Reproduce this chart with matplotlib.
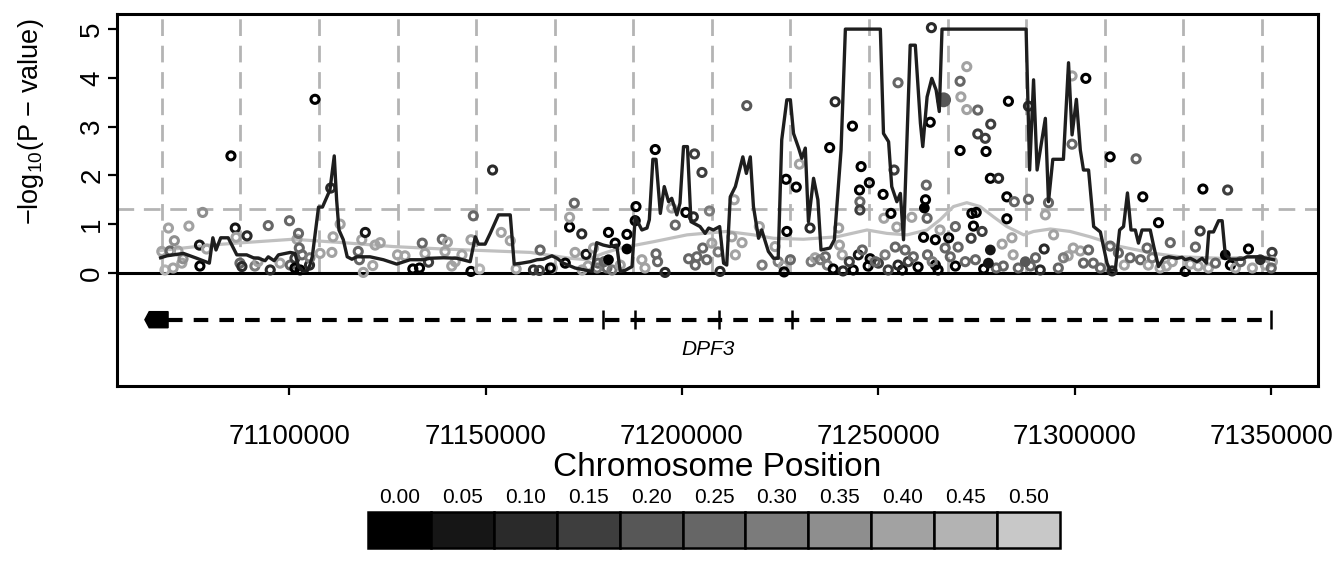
import matplotlib
matplotlib.use('Agg')
import matplotlib.pyplot as plt
from matplotlib.patches import Polygon
import numpy as np

plt.rcParams['font.family'] = ['Liberation Sans', 'DejaVu Sans']
plt.rcParams['mathtext.default'] = 'regular'
plt.rcParams['lines.scale_dashes'] = False

# SNPs: position (kb), -log10(p), LD bin (0 -> 0.00 ... 10 -> 0.50)
snp_kb = [71067.6, 71068.4, 71069.3, 71070.5, 71070.8, 71069.7, 71071.7, 71072.7, 71073.0, 71074.5,
          71077.2, 71077.3, 71078.0, 71079.0, 71085.2, 71086.3, 71086.5, 71087.5, 71088.0, 71089.3,
          71091.3, 71092.1, 71094.7, 71095.2, 71097.7, 71100.1, 71100.3, 71101.5, 71101.5, 71102.0,
          71102.4, 71102.6, 71102.8, 71103.3, 71105.2, 71105.3, 71106.6, 71107.9, 71110.6, 71110.9,
          71111.2, 71113.0, 71117.6, 71117.9, 71118.5, 71118.9, 71119.4, 71121.3, 71121.9, 71123.2,
          71127.6, 71129.5, 71131.5, 71133.2, 71133.9, 71134.6, 71135.5, 71139.0, 71140.3, 71139.7,
          71141.4, 71142.3, 71144.0, 71146.3, 71146.3, 71146.9, 71148.5, 71151.8, 71154.0, 71156.3,
          71157.8, 71162.2, 71163.7, 71163.9, 71167.0, 71166.5, 71170.3, 71171.4, 71171.4, 71172.6,
          71172.8, 71174.5, 71175.6, 71176.1, 71177.5, 71178.7, 71180.9, 71181.3, 71183.0, 71186.0,
          71188.1, 71188.3, 71189.8, 71190.6, 71193.2, 71193.4, 71193.8, 71195.7, 71197.4, 71198.3,
          71201.0, 71201.7, 71202.9, 71203.2, 71203.4, 71203.8, 71205.1, 71205.3, 71206.3, 71207.0,
          71207.6, 71209.2, 71209.7, 71212.7, 71213.3, 71213.6, 71215.3, 71216.5, 71219.7, 71220.4,
          71223.7, 71224.5, 71226.5, 71226.7, 71225.8, 71226.0, 71229.1, 71229.9, 71232.6, 71232.9,
          71233.9, 71236.5, 71237.0, 71237.6, 71238.5, 71239.0, 71239.9, 71240.1, 71241.0, 71243.4,
          71243.6, 71244.9, 71245.2, 71245.3, 71245.3, 71245.6, 71245.9, 71247.4, 71247.7, 71247.9,
          71250.0, 71251.2, 71251.4, 71251.7, 71252.5, 71253.2, 71254.0, 71254.3, 71254.7, 71255.0,
          71256.1, 71256.8, 71257.6, 71258.5, 71258.9, 71260.1, 71261.5, 71262.0, 71262.2, 71262.4,
          71262.5, 71263.2, 71263.5, 71264.5, 71264.5, 71265.7, 71267.0, 71267.9, 71269.6, 71269.6,
          71270.8, 71270.8, 71271.0, 71272.5, 71272.5, 71273.6, 71273.8, 71274.2, 71274.9, 71274.7,
          71275.3, 71275.3, 71276.4, 71276.8, 71277.2, 71277.4, 71278.5, 71278.6, 71280.6, 71281.5,
          71281.8, 71282.7, 71282.7, 71283.1, 71284.0, 71284.6, 71284.3, 71288.2, 71288.2, 71288.7,
          71291.2, 71292.2, 71292.5, 71293.3, 71294.6, 71298.3, 71299.3, 71299.3, 71299.6, 71301.4,
          71302.8, 71303.5, 71304.7, 71306.5, 71309.0, 71309.0, 71309.5, 71311.1, 71312.6, 71314.1,
          71315.6, 71317.3, 71318.4, 71316.7, 71318.7, 71319.7, 71321.3, 71321.7, 71323.3, 71324.3,
          71324.8, 71328.1, 71329.4, 71330.7, 71331.4, 71331.9, 71332.6, 71334.0, 71335.8, 71338.9,
          71339.6, 71340.9, 71342.2, 71344.2, 71345.2, 71348.5, 71350.2, 71350.3, 71350.0, 71227.6,
          71235.2, 71240.8, 71242.6, 71249.2, 71255.0, 71263.7, 71265.2, 71268.3, 71270.3, 71272.1,
          71280.0, 71285.6, 71290.0, 71295.8, 71297.1, 71302.2, 71178.4, 71180.2, 71182.2, 71184.3,
          71174.6]
snp_logp = [0.44, 0.06, 0.92, 0.10, 0.66, 0.45, 0.45, 0.20, 0.29, 0.96,
            0.57, 0.14, 1.24, 0.49, 2.40, 0.92, 0.73, 0.20, 0.13, 0.76,
            0.14, 0.23, 0.97, 0.06, 0.20, 1.07, 0.16, 0.30, 0.10, 0.69,
            0.81, 0.51, 0.06, 0.37, 0.16, 0.31, 3.56, 0.40, 1.74, 0.42,
            0.74, 1.00, 0.44, 0.27, 0.68, 0.01, 0.83, 0.15, 0.57, 0.62,
            0.37, 0.35, 0.08, 0.10, 0.61, 0.40, 0.22, 0.69, 0.63, 0.44,
            0.14, 0.23, 0.37, 0.68, 0.03, 1.17, 0.08, 2.11, 0.83, 0.66,
            0.08, 0.06, 0.05, 0.47, 0.10, 0.10, 0.20, 0.94, 1.14, 1.43,
            0.42, 0.80, 0.38, 0.14, 0.51, 0.20, 0.10, 0.83, 0.61, 0.79,
            1.07, 1.36, 0.27, 0.10, 2.53, 0.39, 0.23, 0.01, 1.33, 0.98,
            1.24, 0.29, 1.15, 2.44, 0.16, 0.33, 2.06, 0.51, 0.27, 1.27,
            0.61, 0.43, 0.03, 0.74, 1.50, 0.37, 0.62, 3.43, 0.95, 0.16,
            0.54, 0.23, 1.92, 0.85, 0.14, 0.02, 1.76, 2.23, 0.92, 0.23,
            0.31, 0.33, 0.16, 2.57, 0.08, 3.51, 0.92, 0.57, 0.04, 3.01,
            0.06, 0.37, 1.70, 1.46, 1.29, 2.18, 0.47, 0.14, 1.85, 0.29,
            0.20, 1.61, 1.12, 0.37, 0.06, 1.22, 2.11, 0.53, 0.94, 3.90,
            0.06, 0.47, 0.23, 1.14, 0.33, 0.12, 0.73, 1.50, 1.80, 1.12,
            0.37, 3.09, 5.03, 0.68, 0.16, 0.88, 0.51, 0.72, 0.95, 0.14,
            2.51, 3.93, 3.61, 4.23, 3.35, 0.71, 1.22, 0.96, 1.24, 0.27,
            3.34, 2.85, 0.85, 0.08, 2.76, 2.49, 1.94, 3.05, 1.94, 0.59,
            0.14, 1.56, 1.11, 3.52, 0.72, 1.46, 0.37, 3.42, 1.51, 0.14,
            0.06, 0.49, 1.19, 1.44, 0.78, 0.35, 4.04, 2.64, 0.51, 0.45,
            3.99, 0.47, 0.20, 0.10, 2.38, 0.55, 0.04, 0.41, 0.16, 0.31,
            2.34, 1.56, 0.51, 0.27, 0.16, 0.31, 1.03, 0.10, 0.14, 0.62,
            0.23, 0.03, 0.18, 0.53, 0.14, 0.86, 1.72, 0.10, 0.20, 1.70,
            0.16, 0.10, 0.23, 0.49, 0.10, 0.16, 0.42, 0.23, 0.10, 0.27,
            0.27, 0.37, 0.23, 0.23, 0.16, 0.23, 0.06, 0.33, 0.53, 0.23,
            0.10, 0.10, 0.31, 0.10, 0.31, 0.20, 0.10, 0.23, 0.06, 0.16,
            0.06]
snp_ld = [8, 9, 8, 8, 7, 5, 8, 8, 7, 8,
          1, 0, 7, 8, 0, 1, 8, 5, 2, 2,
          6, 8, 5, 2, 8, 5, 5, 3, 0, 8,
          5, 5, 0, 5, 2, 6, 0, 8, 2, 8,
          8, 8, 5, 5, 8, 8, 1, 8, 8, 8,
          8, 8, 0, 0, 5, 8, 3, 5, 8, 8,
          8, 8, 8, 8, 0, 5, 9, 2, 8, 8,
          8, 2, 3, 5, 8, 0, 0, 0, 8, 5,
          8, 2, 1, 8, 8, 5, 5, 0, 0, 0,
          0, 0, 8, 8, 0, 5, 5, 2, 8, 5,
          0, 5, 2, 3, 5, 5, 3, 5, 5, 6,
          8, 6, 2, 8, 8, 8, 8, 4, 8, 6,
          8, 6, 0, 0, 8, 0, 0, 8, 2, 6,
          8, 5, 6, 0, 0, 2, 8, 8, 2, 0,
          0, 1, 0, 5, 3, 0, 5, 0, 0, 0,
          3, 0, 8, 6, 3, 0, 3, 5, 8, 5,
          0, 5, 3, 8, 5, 0, 0, 0, 5, 5,
          5, 0, 2, 0, 0, 8, 5, 0, 5, 0,
          0, 5, 8, 8, 8, 3, 0, 0, 0, 5,
          5, 3, 3, 0, 3, 0, 0, 3, 2, 8,
          5, 0, 0, 0, 8, 5, 8, 2, 5, 5,
          2, 2, 8, 5, 8, 8, 8, 5, 8, 8,
          0, 5, 5, 5, 0, 5, 2, 5, 8, 5,
          5, 0, 5, 5, 8, 6, 0, 8, 8, 5,
          8, 0, 8, 5, 8, 3, 0, 8, 5, 3,
          0, 8, 5, 0, 8, 8, 3, 8, 5, 5,
          6, 8, 3, 5, 2, 6, 0, 5, 5, 5,
          5, 5, 5, 5, 6, 5, 6, 5, 6, 8,
          8]

# SNPs drawn as filled dots
filled_kb = [71181.3, 71186.0, 71261.7, 71278.0, 71278.5, 71287.4, 71338.3, 71347.2]
filled_logp = [0.27, 0.49, 1.33, 0.20, 0.47, 0.23, 0.37, 0.27]
filled_ld = [0, 0, 0, 1, 1, 4, 0, 2]

# lead SNP
lead_kb = 71266.6
lead_logp = 3.55
lead_ld = 4

# sliding-window statistic (black line, capped at 5)
win_kb = [71067.3, 71068.9, 71073.1, 71076.5, 71079.7, 71080.6, 71081.4, 71082.6, 71084.5, 71086.7,
          71089.2, 71090.9, 71092.2, 71093.9, 71094.7, 71096.2, 71097.3, 71100.3, 71101.5, 71102.4,
          71103.5, 71104.7, 71105.3, 71105.9, 71107.5, 71108.5, 71110.4, 71111.5, 71112.1, 71112.7,
          71113.8, 71114.8, 71116.0, 71117.2, 71120.6, 71124.0, 71127.4, 71130.8, 71134.2, 71135.9,
          71139.3, 71142.7, 71146.1, 71147.4, 71148.2, 71149.9, 71151.2, 71153.3, 71156.3, 71157.3,
          71159.2, 71161.4, 71163.1, 71164.7, 71166.9, 71168.2, 71169.8, 71172.8, 71177.1, 71178.3,
          71180.0, 71181.7, 71183.4, 71184.3, 71185.5, 71187.3, 71188.1, 71189.8, 71191.1, 71191.7,
          71192.6, 71193.4, 71194.5, 71195.5, 71196.6, 71197.4, 71198.7, 71199.5, 71200.4, 71201.4,
          71202.3, 71204.6, 71205.9, 71206.8, 71208.0, 71209.6, 71210.6, 71211.4, 71212.3, 71213.6,
          71215.5, 71216.4, 71217.4, 71218.2, 71219.5, 71220.3, 71222.0, 71223.3, 71224.5, 71225.4,
          71226.7, 71227.6, 71228.4, 71229.7, 71230.5, 71231.4, 71232.2, 71233.5, 71234.6, 71235.4,
          71237.7, 71238.8, 71240.5, 71241.6, 71250.5, 71251.3, 71252.6, 71253.4, 71254.7, 71255.6,
          71256.4, 71258.1, 71259.4, 71260.7, 71261.3, 71262.4, 71263.6, 71264.7, 71265.5, 71266.2,
          71287.6, 71288.5, 71289.5, 71290.4, 71292.5, 71293.3, 71294.4, 71297.1, 71298.4, 71299.3,
          71300.4, 71301.4, 71302.2, 71303.5, 71304.8, 71306.5, 71308.2, 71309.0, 71310.3, 71311.4,
          71312.4, 71313.4, 71314.3, 71315.4, 71316.2, 71317.1, 71319.2, 71320.1, 71321.3, 71322.6,
          71323.9, 71326.0, 71327.3, 71328.1, 71329.4, 71331.1, 71332.4, 71333.5, 71334.1, 71335.3,
          71336.6, 71337.5, 71338.3, 71339.6, 71342.6, 71343.8, 71346.4, 71348.9, 71350.6]
win_logp = [0.31, 0.35, 0.40, 0.30, 0.20, 0.72, 0.47, 0.72, 0.72, 0.37,
            0.37, 0.31, 0.30, 0.25, 0.33, 0.25, 0.37, 0.42, 0.40, 0.13,
            0.03, 0.05, 0.16, 0.33, 1.35, 1.35, 1.70, 2.40, 1.50, 0.88,
            0.68, 0.33, 0.28, 0.33, 0.33, 0.27, 0.18, 0.27, 0.27, 0.30,
            0.31, 0.30, 0.23, 0.74, 0.59, 0.59, 0.81, 1.19, 1.19, 0.18,
            0.20, 0.23, 0.27, 0.28, 0.35, 0.30, 0.20, 0.10, 0.03, 0.62,
            0.57, 0.54, 0.57, 0.03, 0.05, 0.13, 1.15, 0.88, 0.92, 1.09,
            2.33, 2.33, 1.22, 1.77, 1.46, 1.53, 1.19, 1.43, 2.59, 2.59,
            1.05, 0.95, 0.81, 0.92, 0.88, 0.95, 0.20, 0.16, 1.56, 1.77,
            2.38, 2.04, 2.38, 1.36, 0.71, 0.88, 0.44, 0.30, 0.30, 2.73,
            3.55, 3.55, 2.86, 2.56, 2.35, 2.56, 1.05, 1.94, 1.50, 0.47,
            0.51, 0.68, 2.52, 5.00, 5.00, 2.86, 2.69, 1.77, 1.46, 1.63,
            0.68, 4.67, 4.67, 3.07, 2.59, 3.61, 3.99, 3.75, 3.31, 5.00,
            5.00, 2.11, 3.96, 2.11, 3.17, 1.46, 2.33, 2.33, 4.31, 2.83,
            3.56, 2.52, 2.11, 2.11, 0.95, 0.84, 0.20, 0.05, 0.06, 0.88,
            0.95, 1.64, 0.88, 0.88, 0.61, 0.88, 0.88, 0.54, 0.13, 0.30,
            0.33, 0.30, 0.32, 0.27, 0.30, 0.23, 0.30, 0.20, 0.84, 0.84,
            1.07, 1.07, 0.37, 0.28, 0.28, 0.33, 0.33, 0.30, 0.27]

# smoothed signal (grey line)
smooth_kb = [71067.3, 71079.9, 71088.3, 71101.0, 71113.7, 71126.5, 71139.2, 71151.9, 71161.4, 71171.5,
             71175.8, 71180.0, 71184.3, 71192.8, 71201.3, 71205.5, 71211.4, 71218.2, 71223.3, 71230.9,
             71239.4, 71247.1, 71252.2, 71257.3, 71262.4, 71265.7, 71269.1, 71272.5, 71275.9, 71279.3,
             71282.7, 71287.0, 71289.5, 71293.8, 71298.8, 71303.9, 71311.6, 71320.1, 71326.8, 71337.0,
             71350.6]
smooth_logp = [0.46, 0.57, 0.62, 0.69, 0.62, 0.54, 0.49, 0.45, 0.42, 0.30,
               0.27, 0.40, 0.51, 0.64, 0.78, 0.81, 0.85, 0.78, 0.71, 0.69,
               0.74, 0.88, 0.81, 0.78, 0.88, 1.09, 1.36, 1.44, 1.36, 1.15,
               0.95, 0.78, 0.85, 0.90, 0.85, 0.74, 0.54, 0.40, 0.33, 0.30,
               0.33]

# gene model (DPF3, minus strand)
gene_name = 'DPF3'
gene_start_kb = 71063.3
gene_end_kb = 71350.0
exon_kb = [71069.2, 71179.9, 71188.1, 71209.5, 71228.1, 71350.0]

sig_threshold = 0.05
grid_start_kb = 71067.6
grid_step_kb = 20.0
n_grid = 15
xtick_kb = [71100, 71150, 71200, 71250, 71300, 71350]

ld_labels = ['0.00', '0.05', '0.10', '0.15', '0.20', '0.25', '0.30', '0.35', '0.40', '0.45', '0.50']
ld_colors = ['#000000', '#161616', '#2a2a2a', '#3e3e3e', '#575757', '#666666',
             '#7b7b7b', '#8e8e8e', '#a2a2a2', '#b3b3b3', '#c8c8c8']

kb = 1000.0
fig = plt.figure(figsize=(13.32, 5.76), dpi=100)
ax = fig.add_axes([117 / 1332, 1 - 386 / 576, 1201 / 1332, 372 / 576])

ymax = 5.31
ax.set_xlim(71056.2 * kb, 71361.9 * kb)
ax.set_ylim(-2.32, ymax)

grid_c = '#b4b4b4'
grid_x = [(grid_start_kb + grid_step_kb * i) * kb for i in range(n_grid)]
ax.vlines(grid_x, 0, ymax, colors=grid_c, linewidth=2.0, linestyles=[(0, (12, 7))], zorder=1)
ax.axhline(-np.log10(sig_threshold), color=grid_c, linewidth=2.0, dashes=(12, 7), zorder=1)
ax.axhline(0, color='black', linewidth=2.2, zorder=2)

ax.plot(np.array(smooth_kb) * kb, smooth_logp, color='#c0c0c0', linewidth=2.3, zorder=2)

cols = [ld_colors[i] for i in snp_ld]
ax.scatter(np.array(snp_kb) * kb, snp_logp, s=34, facecolors='none', edgecolors=cols,
           linewidths=2.2, zorder=3)
ax.scatter(np.array(filled_kb) * kb, filled_logp, s=60, c=[ld_colors[i] for i in filled_ld],
           edgecolors='none', zorder=3)
ax.scatter([lead_kb * kb], [lead_logp], s=115, c=[ld_colors[lead_ld]], edgecolors='none', zorder=3)

ax.plot(np.array(win_kb) * kb, win_logp, color='#1e1e1e', linewidth=2.4, zorder=4)

# gene track
gy = -0.96
gh = 0.165
head = 1.1
ax.plot([exon_kb[0] * kb, gene_end_kb * kb], [gy, gy], color='black', linewidth=3.0,
        dashes=(10.5, 8), solid_capstyle='butt', dash_capstyle='butt')
arrow = Polygon([(gene_start_kb * kb, gy), ((gene_start_kb + head) * kb, gy + gh),
                 (exon_kb[0] * kb, gy + gh), (exon_kb[0] * kb, gy - gh),
                 ((gene_start_kb + head) * kb, gy - gh)], closed=True, color='black')
ax.add_patch(arrow)
ax.vlines(np.array(exon_kb[1:]) * kb, gy - 0.2, gy + 0.2, colors='black', linewidth=1.8)
ax.text((gene_start_kb + gene_end_kb) / 2 * kb, -1.58, gene_name, ha='center', va='center',
        fontsize=15, style='italic')

for sp in ax.spines.values():
    sp.set_linewidth(2.2)

ax.set_yticks([0, 1, 2, 3, 4, 5])
ax.set_xticks([t * kb for t in xtick_kb])
ax.set_xticklabels([str(t * 1000) for t in xtick_kb])
ax.tick_params(axis='x', length=6.5, width=1.6, pad=21, labelsize=20)
ax.tick_params(axis='y', length=6.5, width=1.6, pad=2, labelsize=20, labelrotation=90)
for lbl in ax.get_yticklabels():
    lbl.set_va('center')

ax.set_xlabel('Chromosome Position', fontsize=24, labelpad=1)
fig.text(31 / 1332, 1 - 122 / 576, '\u2212log$_{10}$(P \u2212 value)', rotation=90,
         ha='center', va='center', fontsize=19.5)

# LD colour key
cax = fig.add_axes([368 / 1332, 1 - 548 / 576, 692 / 1332, 36 / 576])
cax.bar(range(len(ld_colors)), 1, width=1, color=ld_colors, edgecolor='black',
        linewidth=1.8, clip_on=False)
for i, lab in enumerate(ld_labels):
    cax.text(i, 1.4, lab, ha='center', va='center', fontsize=15)
cax.set_xlim(-0.5, len(ld_colors) - 0.5)
cax.set_ylim(0, 1)
cax.axis('off')

fig.savefig('out.png', dpi=100)
